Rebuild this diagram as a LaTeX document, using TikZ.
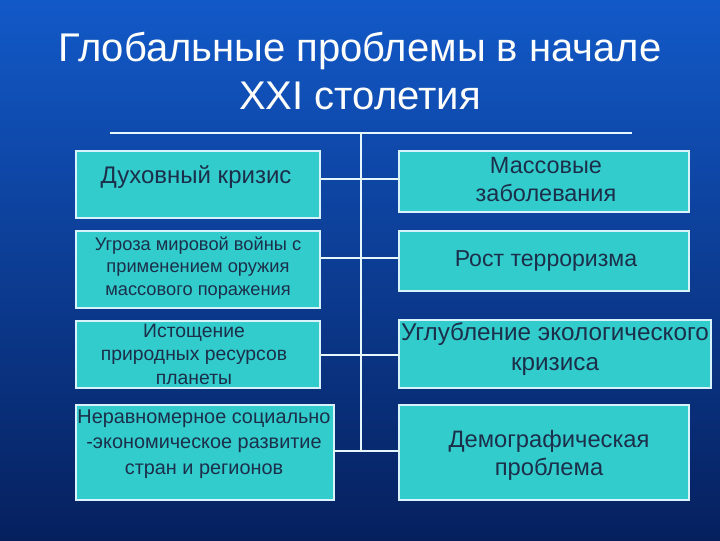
\documentclass[tikz,border=0pt]{standalone}
\usepackage{fontspec}
\setmainfont{Liberation Sans}
\begin{document}
\begin{tikzpicture}[x=0.75pt,y=-0.75pt,
  box/.style={draw=white!85!cyan,line width=0.9pt,fill=boxc,inner sep=0pt,align=center,text=textc},
  txt/.style={text=textc,align=center,inner sep=0pt},
  ln/.style={draw=white!90!cyan,line width=0.8pt}]
\definecolor{boxc}{HTML}{33CCCC}
\definecolor{textc}{HTML}{1B2F4A}
\definecolor{bgtop}{HTML}{1259C8}
\definecolor{bgbot}{HTML}{06205E}
\useasboundingbox (0,0) rectangle (720,540);
\shade[top color=bgtop,bottom color=bgbot] (0,0) rectangle (720,540);
\node[text=white,font=\fontsize{30}{36}\selectfont,align=center] (title) at (360,71) {Глобальные проблемы в начале\\XXI столетия};
\coordinate (hl) at (110,133); \coordinate (hr) at (632,133);
\coordinate (vt) at (361,133); \coordinate (vb) at (361,451);
\draw[ln] (hl) -- (hr);
\draw[ln] (vt) -- (vb);
\begin{scope}[every node/.append style={box}]
\node[minimum width=244*0.75pt,minimum height=67*0.75pt] (l1) at (198,184.5) {};
\node[minimum width=244*0.75pt,minimum height=77*0.75pt] (l2) at (198,269.5) {};
\node[minimum width=244*0.75pt,minimum height=67*0.75pt] (l3) at (198,354.5) {};
\node[minimum width=258*0.75pt,minimum height=95*0.75pt] (l4) at (205,452.5) {};
\node[minimum width=290*0.75pt,minimum height=61*0.75pt] (r1) at (544,181.5) {};
\node[minimum width=290*0.75pt,minimum height=60*0.75pt] (r2) at (544,261) {};
\node[minimum width=312*0.75pt,minimum height=68*0.75pt] (r3) at (555,354) {};
\node[minimum width=290*0.75pt,minimum height=95*0.75pt] (r4) at (544,452.5) {};
\end{scope}
\node[txt,font=\fontsize{18}{22}\selectfont] (t1) at (196,177) {Духовный кризис};
\node[txt,font=\fontsize{13.7}{17}\selectfont] (t2) at (198,268) {Угроза мировой войны с\\применением оружия\\массового поражения};
\node[txt,font=\fontsize{14.5}{17.6}\selectfont] (t3) at (194,354) {Истощение\\природных ресурсов\\планеты};
\node[txt,font=\fontsize{14.9}{19}\selectfont] (t4) at (204,444) {Неравномерное социально\\-экономическое развитие\\стран и регионов};
\node[txt,font=\fontsize{17.6}{21}\selectfont] (t5) at (546,180) {Массовые\\заболевания};
\node[txt,font=\fontsize{17.3}{21}\selectfont] (t6) at (546,261) {Рост терроризма};
\node[txt,font=\fontsize{18.2}{22.5}\selectfont] (t7) at (555,349) {Углубление экологического\\кризиса};
\node[txt,font=\fontsize{17.8}{21}\selectfont] (t8) at (549,455) {Демографическая\\проблема};
\draw[ln] (l1.east |- 0,179) -- (r1.west |- 0,179);
\draw[ln] (l2.east |- 0,258) -- (r2.west |- 0,258);
\draw[ln] (l3.east |- 0,355) -- (r3.west |- 0,355);
\draw[ln] (l4.east |- 0,451) -- (r4.west |- 0,451);
\end{tikzpicture}
\end{document}
